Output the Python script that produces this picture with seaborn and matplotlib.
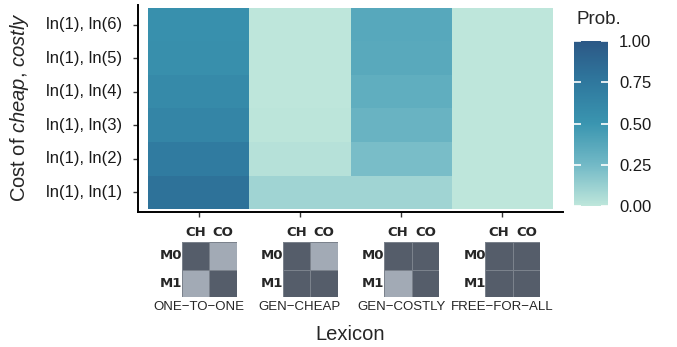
import numpy as np
import pandas as pd
import matplotlib
matplotlib.use("Agg")
import matplotlib.pyplot as plt
from matplotlib.colors import LinearSegmentedColormap, ListedColormap
import seaborn as sns

# --- data -------------------------------------------------------------
lexicons = ["ONE−TO−ONE", "GEN−CHEAP", "GEN−COSTLY", "FREE−FOR−ALL"]
costs = ["ln(1), ln(1)", "ln(1), ln(2)", "ln(1), ln(3)",
         "ln(1), ln(4)", "ln(1), ln(5)", "ln(1), ln(6)"]
prob_one_to_one = [0.80, 0.72, 0.64, 0.59, 0.55, 0.54]
prob_gen_cheap = [0.10, 0.03, 0.01, 0.00, 0.00, 0.00]
prob_gen_costly = [0.10, 0.23, 0.29, 0.33, 0.36, 0.37]
prob_free_for_all = [0.00, 0.00, 0.00, 0.00, 0.00, 0.00]

# lexicon sketches: rows M0, M1; columns CH, CO (1 = message may name state)
lexicon_cells = {
    "ONE−TO−ONE": [[1, 0], [0, 1]],
    "GEN−CHEAP": [[1, 0], [1, 1]],
    "GEN−COSTLY": [[1, 1], [0, 1]],
    "FREE−FOR−ALL": [[1, 1], [1, 1]],
}
message_labels = ["M0", "M1"]
state_labels = ["CH", "CO"]
cbar_ticks = [0.0, 0.25, 0.5, 0.75, 1.0]
cbar_ticklabels = ["0.00", "0.25", "0.50", "0.75", "1.00"]

# --- style ------------------------------------------------------------
sns.set_style("white")
plt.rcParams["font.family"] = ["Liberation Sans", "DejaVu Sans"]
plt.rcParams["mathtext.fontset"] = "custom"
plt.rcParams["mathtext.rm"] = "Liberation Sans"
plt.rcParams["mathtext.it"] = "Liberation Sans:italic"

W, H = 677, 347
fig = plt.figure(figsize=(W / 100, H / 100), dpi=100)


def box(x0, y0, x1, y1):
    return [x0 / W, 1 - y1 / H, (x1 - x0) / W, (y1 - y0) / H]


ax = fig.add_axes(box(138, 4.6, 563, 212.4))
cax = fig.add_axes(box(574, 41, 608, 206))

prob_cmap = LinearSegmentedColormap.from_list(
    "prob", [(0.0, "#BEE6DB"), (0.25, "#72B9C6"), (0.5, "#3A95B0"),
             (0.75, "#2F789E"), (1.0, "#2C5886")])

df = pd.DataFrame({
    lexicons[0]: prob_one_to_one,
    lexicons[1]: prob_gen_cheap,
    lexicons[2]: prob_gen_costly,
    lexicons[3]: prob_free_for_all,
}, index=costs).iloc[::-1]

sns.heatmap(df, ax=ax, cmap=prob_cmap, vmin=0, vmax=1, cbar_ax=cax,
            cbar_kws={"ticks": cbar_ticks}, xticklabels=False)

ax.set_xlim(-0.1, len(lexicons) + 0.1)
ax.set_ylim(len(costs) + 0.1, -0.1)
for side in ["left", "bottom"]:
    ax.spines[side].set_visible(True)
    ax.spines[side].set_color("black")
    ax.spines[side].set_linewidth(1.4)
ax.spines["top"].set_visible(False)
ax.spines["right"].set_visible(False)
ax.set_xticks(np.arange(len(lexicons)) + 0.5)
ax.set_xticklabels([])
ax.xaxis.set_ticks_position("bottom")
ax.yaxis.set_ticks_position("left")
ax.tick_params(axis="both", which="major", direction="out", length=3.5,
               width=1.0, color="#333333", left=True, bottom=True, pad=8)
ax.tick_params(axis="y", labelsize=12, labelcolor="#1a1a1a")
plt.setp(ax.get_yticklabels(), rotation=0)
ax.set_xlabel("")
ax.set_ylabel("")

# colourbar with white inner tick marks on both edges
cbar = ax.collections[0].colorbar
cbar.outline.set_visible(False)
cax.set_axisbelow(False)
cax.yaxis.set_ticks_position("both")
cax.tick_params(which="major", direction="in", color="white", length=5,
                width=1.2, left=True, right=True, labelleft=False,
                labelright=True, labelsize=12, labelcolor="#1a1a1a", pad=8)
cax.set_yticklabels(cbar_ticklabels)
fig.text(576 / W, 1 - 20 / H, "Prob.", fontsize=13.5, va="center", ha="left")

# axis titles
fig.text(350 / W, 1 - 335 / H, "Lexicon", fontsize=14.5, ha="center",
         va="center")
fig.text(20 / W, 1 - 107 / H, r"Cost of $\mathit{cheap}$, $\mathit{costly}$",
         fontsize=14.5, ha="center", va="center", rotation=90)

# lexicon sketches below the x axis
grey_cmap = ListedColormap(["#A2AAB5", "#555D6A"])
unit = 425 / 4.2
for i, name in enumerate(lexicons):
    cx = 138 + unit * (0.6 + i)
    mx0, my0, size = cx - 17, 242, 55
    iax = fig.add_axes(box(mx0, my0, mx0 + size, my0 + size))
    sns.heatmap(pd.DataFrame(lexicon_cells[name], index=message_labels,
                             columns=state_labels),
                ax=iax, cmap=grey_cmap, vmin=0, vmax=1, cbar=False,
                xticklabels=False, yticklabels=False,
                linewidths=0.4, linecolor="#7b828c")
    iax.set_xlabel("")
    iax.set_ylabel("")
    for j, s in enumerate(state_labels):
        fig.text((mx0 + size * (0.25 + 0.5 * j)) / W, 1 - 233 / H, s,
                 family="DejaVu Sans", weight="bold", fontsize=9.5,
                 ha="center", va="center")
    for j, m in enumerate(message_labels):
        fig.text((mx0 + 0.5) / W, 1 - (my0 + size * (0.25 + 0.5 * j)) / H, m,
                 family="DejaVu Sans", weight="bold", fontsize=9.5,
                 ha="right", va="center")
    fig.text(cx / W, 1 - 306.5 / H, name, fontsize=9.5, ha="center",
             va="center")

fig.savefig("out.png", dpi=100)
